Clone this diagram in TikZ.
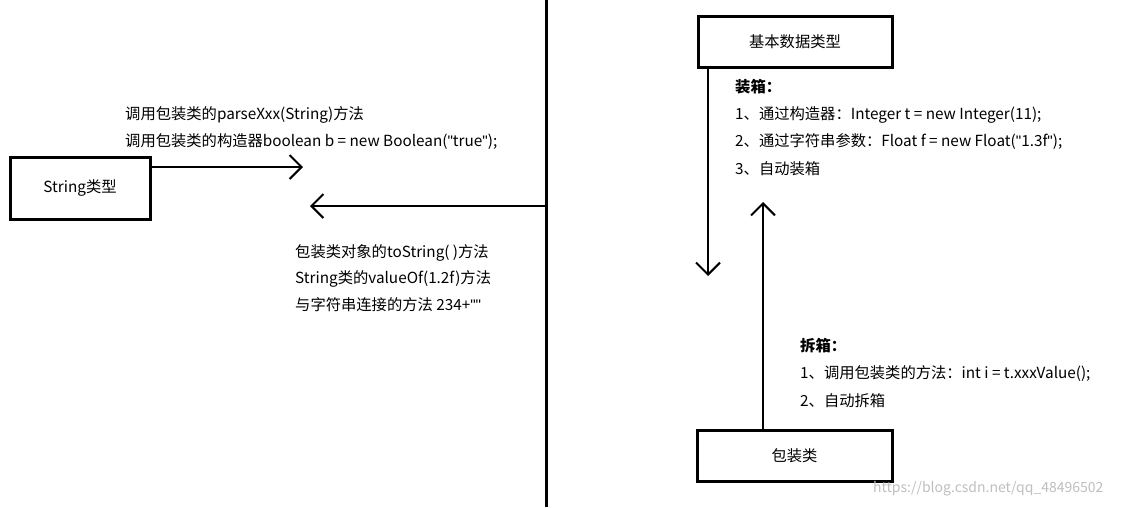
\documentclass[tikz,border=0pt]{standalone}
\usepackage{fontspec}
\setmainfont{Noto Sans CJK SC}
\newfontfamily\latf{Liberation Sans}
\usetikzlibrary{arrows.meta}
\newcommand{\dq}{{\latf\char34}}
\begin{document}
\begin{tikzpicture}[x=1pt,y=-1pt,
  box/.style={draw,line width=3pt,inner sep=0pt},
  arr/.style={line width=2pt,-{Straight Barb[length=12pt,width=24pt,line width=2pt]}},
  txt/.style={anchor=west,inner sep=0pt,font=\fontsize{15.3}{18}\selectfont},
  every node/.style={font=\fontsize{15.3}{18}\selectfont}]
\useasboundingbox[fill=white] (0,0) rectangle (1129,507);
\draw[line width=3pt] (546,0) coordinate (vt) -- (546,507) coordinate (vb);
% left
\node[box,minimum width=140pt,minimum height=62pt] (str) at (80,188) {String类型};
\coordinate (r1) at (303,167);
\draw[arr] (str.east|-r1) -- (r1);
\node[txt] (t1) at (125,115) {调用包装类的parseXxx(String)方法};
\node[txt] (t2) at (125,142) {调用包装类的构造器boolean b = new Boolean(\dq true\dq);};
\coordinate (l0) at (546,206);
\coordinate (l1) at (310,206);
\draw[arr] (l0) -- (l1);
\node[txt] (t3) at (295,253) {包装类对象的toString( )方法};
\node[txt] (t4) at (295,279) {String类的valueOf(1.2f)方法};
\node[txt] (t5) at (295,305) {与字符串连接的方法 234+\dq\dq};
% right
\node[box,minimum width=194pt,minimum height=51pt] (jb) at (795,42) {基本数据类型};
\node[box,minimum width=195pt,minimum height=51pt] (bz) at (794.5,456) {包装类};
\coordinate (d1) at (708,276);
\draw[arr] (jb.south-|d1) -- (d1);
\coordinate (u1) at (763,202);
\draw[arr] (bz.north-|u1) -- (u1);
\node[txt,font=\fontsize{15.3}{18}\selectfont\bfseries] (zx) at (735,87) {装箱：};
\node[txt] (z1) at (735,115) {1、通过构造器：Integer t = new Integer(11);};
\node[txt] (z2) at (735,142) {2、通过字符串参数：Float f = new Float(\dq 1.3f\dq);};
\node[txt] (z3) at (735,169) {3、自动装箱};
\node[txt,font=\fontsize{15.3}{18}\selectfont\bfseries] (cx) at (800,346) {拆箱：};
\node[txt] (c1) at (800,374) {1、调用包装类的方法：int i = t.xxxValue();};
\node[txt] (c2) at (800,401) {2、自动拆箱};
\node[txt,text=black!25,font=\fontsize{14}{16}\selectfont] (wm) at (873,489) {https://blog.csdn.net/qq\_48496502};
\end{tikzpicture}
\end{document}
